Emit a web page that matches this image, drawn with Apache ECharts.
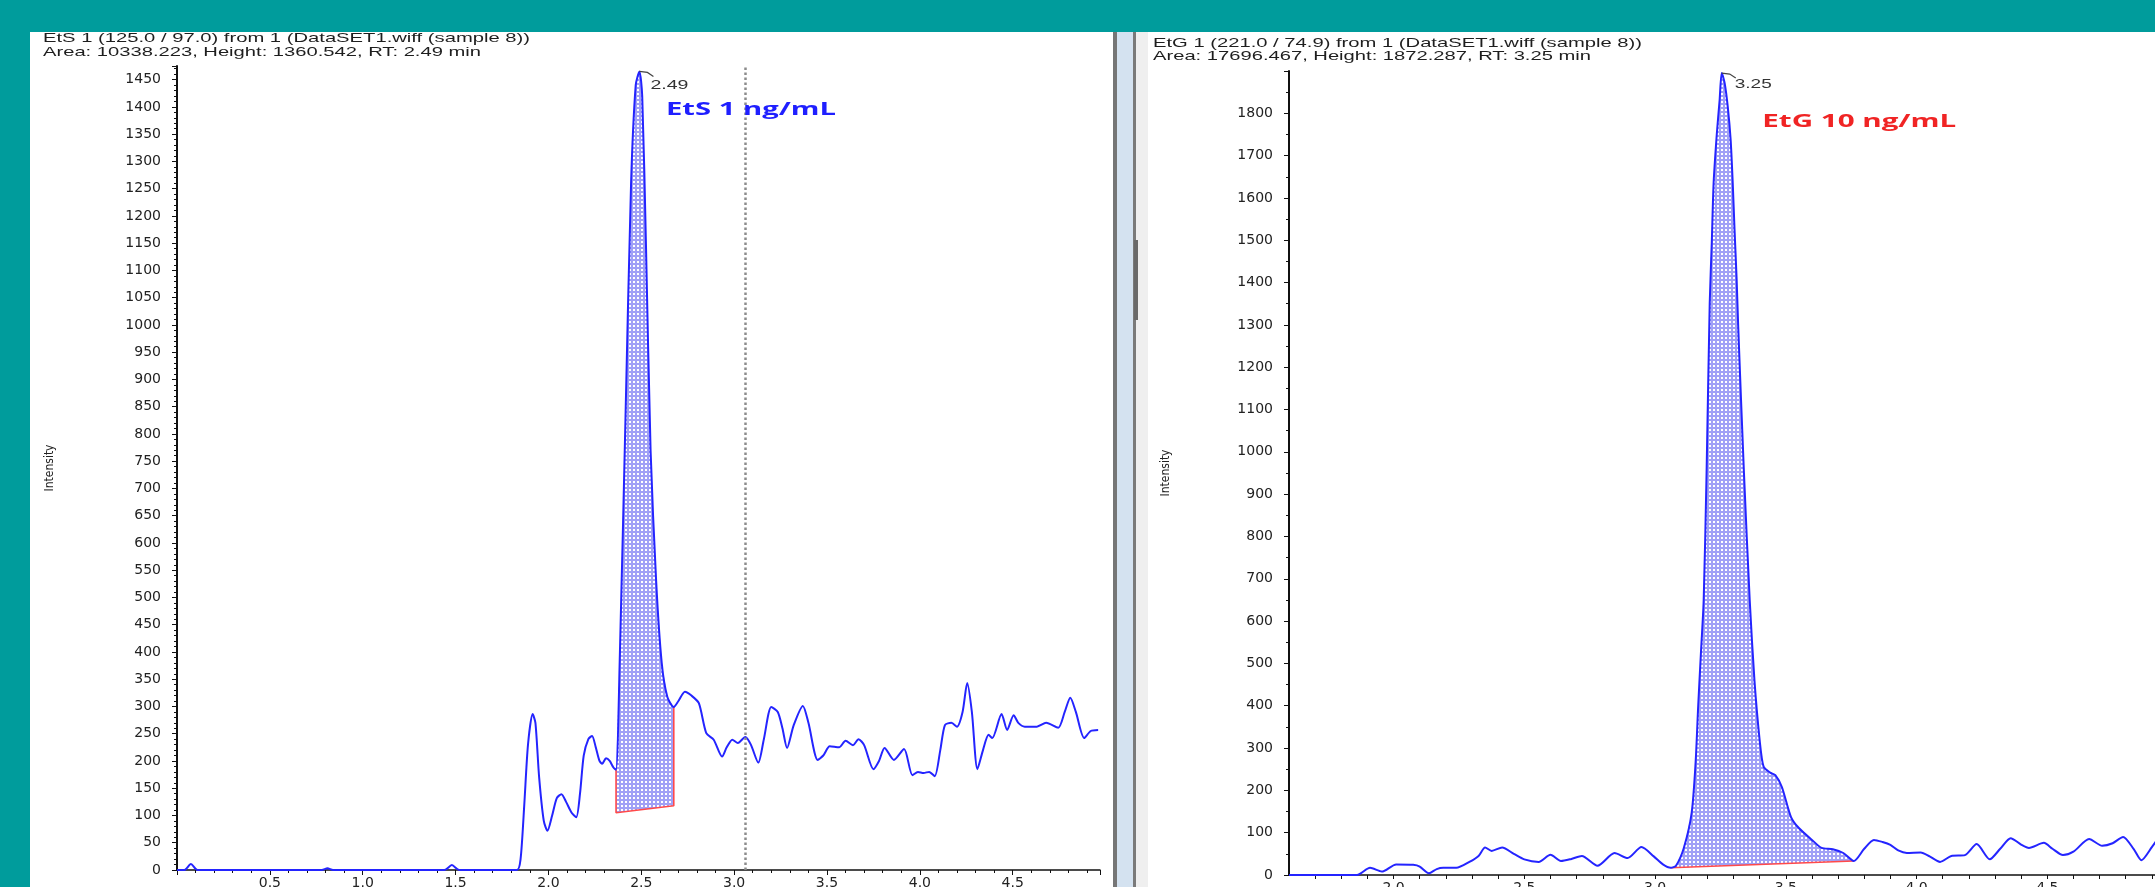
<!DOCTYPE html>
<html>
<head>
<meta charset="utf-8">
<script src="https://cdn.jsdelivr.net/npm/echarts@6/dist/echarts.min.js"></script>
<style>
html,body{margin:0;padding:0;background:#009c9c;}
#c{width:2155px;height:887px;}
</style>
</head>
<body>
<div id="c"></div>
<script>
// ---------------- DATA ----------------
const etsHeader = ['EtS 1 (125.0 / 97.0) from 1 (DataSET1.wiff (sample 8))',
                   'Area: 10338.223, Height: 1360.542, RT: 2.49 min'];
const etgHeader = ['EtG 1 (221.0 / 74.9) from 1 (DataSET1.wiff (sample 8))',
                   'Area: 17696.467, Height: 1872.287, RT: 3.25 min'];
const etsTag = 'EtS 1 ng/mL';
const etgTag = 'EtG 10 ng/mL';
const yAxisName = 'Intensity';

// EtS chromatogram (time in min, intensity)
const etsTime = [0.00,0.04,0.075,0.11,0.78,0.81,0.84,1.44,1.48,1.52,1.83,1.85,1.87,1.89,1.915,1.93,1.95,1.975,1.995,2.02,
  2.045,2.07,2.095,2.125,2.15,2.17,2.19,2.215,2.235,2.255,2.275,2.29,2.31,2.33,2.35,2.364,2.385,2.415,2.445,2.47,
  2.49,2.505,2.525,2.55,2.58,2.61,2.64,2.675,2.70,2.735,2.77,2.81,2.85,2.89,2.935,2.96,2.99,3.02,3.06,3.09,
  3.13,3.16,3.20,3.235,3.26,3.285,3.32,3.37,3.40,3.45,3.48,3.515,3.565,3.60,3.64,3.67,3.70,3.75,3.78,3.81,
  3.86,3.915,3.96,3.99,4.02,4.05,4.08,4.11,4.135,4.17,4.20,4.23,4.255,4.28,4.31,4.34,4.37,4.39,4.44,4.47,
  4.505,4.53,4.565,4.63,4.68,4.745,4.78,4.81,4.84,4.885,4.92,4.96];
const etsIntensity = [0,0,11,0,0,3,0,0,9,0,0,20,120,230,286,270,170,90,72,100,
  132,139,125,105,97,140,210,240,246,225,200,195,205,200,188,184,400,830,1260,1440,
  1465,1420,1150,770,530,380,318,299,310,327,320,306,251,239,208,225,239,233,244,230,
  197,240,299,290,260,224,265,301,270,202,210,227,225,237,229,240,229,185,200,224,
  202,222,174,180,178,180,172,220,266,270,263,290,343,290,185,220,248,242,286,257,
  284,270,263,263,270,261,290,316,290,242,255,257];
const etsBaselineTime = [2.364, 2.675];
const etsBaselineIntensity = [105, 118];
const etsApex = [2.49, 1465];
const etsApexLabel = '2.49';
const etsCursorTime = 3.065;
const etsTagAt = [2.633, 1394];

// EtG chromatogram
const etgTime = [1.60,1.86,1.91,1.955,2.01,2.075,2.10,2.135,2.165,2.19,2.24,2.29,2.325,2.35,2.375,2.415,2.46,2.50,2.555,2.60,
  2.64,2.68,2.72,2.78,2.845,2.895,2.948,2.995,3.03,3.06,3.08,3.11,3.14,3.155,3.165,3.175,3.186,3.197,3.209,3.217,
  3.224,3.236,3.247,3.255,3.266,3.278,3.289,3.297,3.304,3.312,3.318,3.34,3.362,3.38,3.40,3.415,3.44,3.46,3.485,3.52,
  3.55,3.60,3.637,3.68,3.72,3.76,3.80,3.837,3.87,3.90,3.93,3.963,4.016,4.05,4.09,4.133,4.185,4.23,4.28,4.32,
  4.36,4.40,4.43,4.487,4.52,4.56,4.60,4.66,4.71,4.75,4.79,4.83,4.86,4.90,4.95];
const etgIntensity = [0,0,17,8,25,24,20,4,14,17,17,31,45,65,57,65,50,37,31,48,
  33,38,45,22,52,40,66,44,25,17,22,64,147,265,400,520,650,950,1350,1496,
  1636,1750,1832,1895,1872,1816,1738,1636,1525,1407,1296,950,650,461,319,256,242,236,208,137,
  111,83,64,61,52,33,62,83,78,71,58,52,53,44,31,45,47,73,37,62,
  87,72,64,76,62,47,55,85,69,75,90,62,35,66,110];
const etgBaselineTime = [3.06, 3.76];
const etgBaselineIntensity = [17, 33];
const etgApex = [3.255, 1895];
const etgApexLabel = '3.25';
const etgTagAt = [3.41, 1779];

// ---------------- HELPERS ----------------
const zip = (xs, ys) => xs.map((x, i) => [x, ys[i]]);
const valueAt = (xs, ys, t) => { const i = xs.findIndex(x => Math.abs(x - t) < 1e-9); return ys[i]; };

const pc = document.createElement('canvas');
pc.width = 4; pc.height = 4;
const pctx = pc.getContext('2d');
pctx.fillStyle = 'rgb(160,160,246)'; pctx.fillRect(0, 0, 4, 4);
pctx.fillStyle = '#ffffff'; pctx.fillRect(1, 1, 2, 2);
const dotPattern = { image: pc, repeat: 'repeat' };

const mc = document.createElement('canvas').getContext('2d');
function fitText(id, text, x, y, font, fill, targetW) {
  mc.font = font;
  const w = mc.measureText(text).width;
  return { type: 'text', id, x, y, z: 60, scaleX: targetW ? targetW / w : 1,
    style: { text, font, fill, align: 'left', verticalAlign: 'middle', textAlign: 'left', textVerticalAlign: 'middle' } };
}

function fillSeries(xi, yi, times, vals, bT, bV) {
  return {
    type: 'custom', xAxisIndex: xi, yAxisIndex: yi, silent: true, z: 1,
    data: [[bT[0], bV[0]]],
    renderItem: (params, api) => {
      const pts = [];
      times.forEach((t, i) => { if (t >= bT[0] - 1e-9 && t <= bT[1] + 1e-9) pts.push(api.coord([t, vals[i]])); });
      pts.push(api.coord([bT[1], bV[1]]));
      pts.push(api.coord([bT[0], bV[0]]));
      return { type: 'polygon', shape: { points: pts }, style: { fill: dotPattern, stroke: null } };
    }
  };
}
function baselineSeries(xi, yi, times, vals, bT, bV) {
  return {
    type: 'line', xAxisIndex: xi, yAxisIndex: yi, z: 3, silent: true, showSymbol: false, animation: false,
    data: [[bT[0], valueAt(times, vals, bT[0])], [bT[0], bV[0]], [bT[1], bV[1]], [bT[1], valueAt(times, vals, bT[1])]],
    lineStyle: { color: '#ff4a4a', width: 1.6 }
  };
}

const tickFont = { fontFamily: 'DejaVu Sans', fontSize: 14, color: '#222' };
const axisBlack = { show: true, lineStyle: { color: '#111', width: 2 } };
const nameStyle = { fontFamily: '"Liberation Sans Narrow","DejaVu Sans Condensed",sans-serif', fontSize: 12, color: '#222' };
const lineColor = '#2424ff';
const plain = v => String(v);

const chart = echarts.init(document.getElementById('c'), null, { renderer: 'canvas' });

const option = {
  backgroundColor: '#009c9c',
  animation: false,
  grid: [
    { left: 177, top: 66, width: 923, height: 804, outerBoundsMode: 'none', containLabel: false },
    { left: 1289, top: 71, width: 889, height: 804, outerBoundsMode: 'none', containLabel: false }
  ],
  xAxis: [
    { type: 'value', gridIndex: 0, min: 0, max: 4.97, interval: 0.5,
      axisLine: { show: true, onZero: false, lineStyle: { color: '#111', width: 1.5 } },
      axisTick: { show: true, length: 5, lineStyle: { color: '#111' } },
      minorTick: { show: true, splitNumber: 5, length: 3, lineStyle: { color: '#111' } },
      splitLine: { show: false },
      axisLabel: { ...tickFont, margin: 6, showMinLabel: false, showMaxLabel: false, formatter: v => v.toFixed(1) } },
    { type: 'value', gridIndex: 1, min: 1.6, max: 5.0, interval: 0.1,
      axisLine: { show: true, onZero: false, lineStyle: { color: '#111', width: 1.5 } },
      axisTick: { show: true, length: 4, lineStyle: { color: '#111' } },
      splitLine: { show: false },
      axisLabel: { ...tickFont, margin: 6, showMinLabel: false, showMaxLabel: false,
        formatter: v => (Math.abs(v * 2 - Math.round(v * 2)) < 1e-6 ? v.toFixed(1) : '') } }
  ],
  yAxis: [
    { type: 'value', gridIndex: 0, min: 0, max: 1475, interval: 50,
      name: yAxisName, nameLocation: 'middle', nameGap: 121, nameTextStyle: nameStyle,
      axisLine: axisBlack,
      axisTick: { show: true, length: 5, lineStyle: { color: '#111' } },
      minorTick: { show: true, splitNumber: 5, length: 3, lineStyle: { color: '#111' } },
      splitLine: { show: false },
      axisLabel: { ...tickFont, margin: 16, showMaxLabel: false, formatter: plain } },
    { type: 'value', gridIndex: 1, min: 0, max: 1900, interval: 100,
      name: yAxisName, nameLocation: 'middle', nameGap: 117, nameTextStyle: nameStyle,
      axisLine: axisBlack,
      axisTick: { show: true, length: 5, lineStyle: { color: '#111' } },
      minorTick: { show: true, splitNumber: 2, length: 3, lineStyle: { color: '#111' } },
      splitLine: { show: false },
      axisLabel: { ...tickFont, margin: 16, showMaxLabel: false, formatter: plain } }
  ],
  series: [
    fillSeries(0, 0, etsTime, etsIntensity, etsBaselineTime, etsBaselineIntensity),
    baselineSeries(0, 0, etsTime, etsIntensity, etsBaselineTime, etsBaselineIntensity),
    { type: 'line', xAxisIndex: 0, yAxisIndex: 0, z: 4, showSymbol: false, smooth: 0.25,
      data: zip(etsTime, etsIntensity), lineStyle: { color: lineColor, width: 2 },
      markLine: { silent: true, symbol: ['none', 'none'], label: { show: false },
        lineStyle: { color: '#8c8c8c', type: 'dotted', width: 2.5 }, data: [{ xAxis: etsCursorTime }] } },
    fillSeries(1, 1, etgTime, etgIntensity, etgBaselineTime, etgBaselineIntensity),
    baselineSeries(1, 1, etgTime, etgIntensity, etgBaselineTime, etgBaselineIntensity),
    { type: 'line', xAxisIndex: 1, yAxisIndex: 1, z: 4, showSymbol: false, smooth: 0.25,
      data: zip(etgTime, etgIntensity), lineStyle: { color: lineColor, width: 2 } }
  ]
};
chart.setOption(option);

// panels, headers and annotations
const p1 = chart.convertToPixel({ xAxisIndex: 0, yAxisIndex: 0 }, etsApex);
const p2 = chart.convertToPixel({ xAxisIndex: 1, yAxisIndex: 1 }, etgApex);
const t1 = chart.convertToPixel({ xAxisIndex: 0, yAxisIndex: 0 }, etsTagAt);
const t2 = chart.convertToPixel({ xAxisIndex: 1, yAxisIndex: 1 }, etgTagAt);
const hdrFont = '13px "Liberation Sans", Arial, sans-serif';
const tagFont = 'bold 18px "Open Sans", sans-serif';

const rect = (id, x, y, w, h, fill, z) => ({ type: 'rect', id, z: z === undefined ? -10 : z, silent: true,
  shape: { x, y, width: w, height: h }, style: { fill } });
const hook = (id, p) => ({ type: 'polyline', id, z: 60, silent: true,
  shape: { points: [[p[0], p[1]], [p[0] + 8, p[1] + 1], [p[0] + 14, p[1] + 5]] },
  style: { stroke: '#444', lineWidth: 1.2, fill: null } });

chart.setOption({
  graphic: [
    rect('bgL', 30, 32, 1083, 855, '#ffffff'),
    rect('bgR', 1148, 32, 1007, 855, '#ffffff'),
    rect('sep1', 1113, 32, 4, 855, '#767676'),
    rect('sep2', 1117, 32, 16, 855, '#d4e2f0'),
    rect('sep3', 1133, 32, 3, 855, '#7a7a7a'),
    rect('sep4', 1136, 32, 12, 855, '#efefef'),
    rect('thumb', 1134, 240, 4, 80, '#6a6a6a', -9),
    fitText('h1a', etsHeader[0], 43, 38, hdrFont, '#1e1e1e', 487),
    fitText('h1b', etsHeader[1], 43, 52, hdrFont, '#1e1e1e', 438),
    fitText('h2a', etgHeader[0], 1153, 43, hdrFont, '#1e1e1e', 489),
    fitText('h2b', etgHeader[1], 1153, 56, hdrFont, '#1e1e1e', 438),
    fitText('tag1', etsTag, t1[0], t1[1], tagFont, '#1f1fff', 170),
    fitText('tag2', etgTag, t2[0], t2[1], tagFont, '#f02424', 194),
    hook('hk1', p1),
    hook('hk2', p2),
    fitText('pk1', etsApexLabel, p1[0] + 11, p1[1] + 14, hdrFont, '#333', 38),
    fitText('pk2', etgApexLabel, p2[0] + 13, p2[1] + 11, hdrFont, '#333', 37)
  ]
});
</script>
</body>
</html>
